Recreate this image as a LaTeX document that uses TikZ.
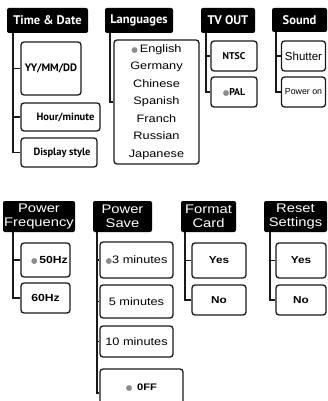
\documentclass[tikz,border=0pt]{standalone}
\usepackage{fontspec}
\setmainfont{Liberation Sans}
\newfontfamily\ptsans{PT Sans}
\newfontfamily\wide[FakeStretch=1.18]{Liberation Sans}
\newfontfamily\dv{DejaVu Sans}
\definecolor{dotgray}{gray}{0.55}
\newcommand{\gdot}{{\color{dotgray}\dv\fontsize{7.5}{7.5}\selectfont ●}}
\begin{document}
\begin{tikzpicture}[x=1pt,y=-1pt,
  hdr/.style={fill=black, rounded corners=2pt, text=white, inner sep=0pt, align=center},
  tophdr/.style={hdr, font=\ptsans\bfseries\fontsize{12.5}{13}\selectfont},
  bothdr/.style={hdr, font=\wide\fontsize{12.5}{14.5}\selectfont},
  opt/.style={draw=black!90, line width=1.3pt, rounded corners=3pt, inner sep=0pt, fill=white, align=center},
  link/.style={line width=1.5pt, draw=black!90}]
\clip (0,0) rectangle (327,401);
\useasboundingbox (0,0) rectangle (327,401);
% ---------- top row headers
\node[tophdr, minimum width=81pt, minimum height=25pt] (td) at (47.5,20.5) {Time \& Date};
\node[tophdr, minimum width=68pt, minimum height=25pt] (lg) at (139,20.5) {Languages};
\node[tophdr, minimum width=54pt, minimum height=25pt] (tv) at (228,20.5) {TV OUT};
\node[tophdr, minimum width=55pt, minimum height=24pt] (sd) at (299.5,20) {Sound};
% ---------- top row options
\node[opt, minimum width=60pt, minimum height=53pt, font=\ptsans\bfseries\fontsize{10.8}{12}\selectfont] (ymd) at (51,68.5) {YY/MM/DD};
\node[opt, minimum width=79pt, minimum height=28pt, font=\ptsans\bfseries\fontsize{10.5}{12}\selectfont] (hm) at (60.5,117) {\hspace*{10pt}Hour/minute};
\node[opt, minimum width=76pt, minimum height=29pt, font=\ptsans\bfseries\fontsize{10.5}{12}\selectfont] (ds) at (59,152.5) {\hspace*{6pt}Display style};
\node[opt, minimum width=85pt, minimum height=124pt, font=\wide\fontsize{10.8}{17.5}\selectfont] (lang) at (156.5,102)
  {\gdot\,English\\Germany\\Chinese\\Spanish\\Franch\\Russian\\Japanese};
\node[opt, minimum width=46pt, minimum height=30pt, font=\ptsans\bfseries\fontsize{9.8}{10}\selectfont] (ntsc) at (234,56) {NTSC};
\node[opt, minimum width=46pt, minimum height=30pt, font=\ptsans\bfseries\fontsize{9.8}{10}\selectfont] (pal) at (234,92) {\gdot PAL};
\node[opt, minimum width=44pt, minimum height=30pt, font=\fontsize{11.5}{12}\selectfont] (sh) at (303.5,56) {Shutter};
\node[opt, minimum width=44pt, minimum height=30pt, font=\fontsize{8.8}{10}\selectfont] (po) at (303.5,92) {Power on};
% ---------- top row links
\draw[link] ([xshift=6pt]td.south west) |- (ymd.west);
\draw[link] ([xshift=6pt]td.south west) |- (hm.west);
\draw[link] ([xshift=6pt]td.south west) |- (ds.west);
\draw[link] ([xshift=5pt]lg.south west) |- (lang.west);
\draw[link] ([xshift=5pt]tv.south west) |- (ntsc.west);
\draw[link] ([xshift=5pt]tv.south west) |- (pal.west);
\draw[link] ([xshift=4pt]sd.south west) |- (sh.west);
\draw[link] ([xshift=4pt]sd.south west) |- (po.west);
% ---------- bottom row headers
\node[bothdr, minimum width=72pt, minimum height=31pt] (pf) at (39,216.5) {Power\\Frequency};
\node[bothdr, minimum width=59pt, minimum height=31pt] (ps) at (122.5,216.5) {Power\\Save};
\node[bothdr, minimum width=55pt, minimum height=31pt] (fc) at (208.5,216.5) {Format\\Card};
\node[bothdr, minimum width=63pt, minimum height=31pt] (rs) at (295.5,216.5) {Reset\\Settings};
% ---------- bottom row options
\node[opt, minimum width=49pt, minimum height=34pt, font=\wide\bfseries\fontsize{10.3}{11}\selectfont] (f50) at (45.5,260) {\hspace*{8pt}\gdot\,50Hz};
\node[opt, minimum width=49pt, minimum height=30pt, font=\wide\bfseries\fontsize{10.3}{11}\selectfont] (f60) at (45.5,298) {60Hz};
\node[opt, minimum width=73pt, minimum height=36pt, font=\wide\fontsize{10.8}{12}\selectfont] (p3) at (136.5,260) {\gdot3 minutes};
\node[opt, minimum width=73pt, minimum height=33pt, font=\wide\fontsize{10.8}{12}\selectfont] (p5) at (136.5,301.5) {5 minutes};
\node[opt, minimum width=73pt, minimum height=31pt, font=\wide\fontsize{10.8}{12}\selectfont] (p10) at (136.5,341.5) {10 minutes};
\node[opt, minimum width=83pt, minimum height=38pt, font=\wide\bfseries\fontsize{9.5}{11}\selectfont] (poff) at (141.5,388) {\gdot\, 0FF};
\node[opt, minimum width=54pt, minimum height=35pt, font=\wide\bfseries\fontsize{10}{12}\selectfont] (fy) at (219,260.5) {Yes};
\node[opt, minimum width=54pt, minimum height=30pt, font=\wide\bfseries\fontsize{10}{12}\selectfont] (fn) at (219,300) {No};
\node[opt, minimum width=50pt, minimum height=35pt, font=\wide\bfseries\fontsize{10}{12}\selectfont] (ry) at (301,260.5) {Yes};
\node[opt, minimum width=50pt, minimum height=30pt, font=\wide\bfseries\fontsize{10}{12}\selectfont] (rn) at (301,300) {No};
% ---------- bottom row links
\draw[link] ([xshift=10pt]pf.south west) |- (f50.west);
\draw[link] ([xshift=10pt]pf.south west) |- (f60.west);
\draw[link] ([xshift=4pt]ps.south west) |- (p3.west);
\draw[link] ([xshift=4pt]ps.south west) |- (p5.west);
\draw[link] ([xshift=4pt]ps.south west) |- (p10.west);
\draw[link] ([xshift=4pt]ps.south west) |- ([yshift=-5pt]poff.west);
\draw[link] ([xshift=4pt]fc.south west) |- (fy.west);
\draw[link] ([xshift=4pt]fc.south west) |- (fn.west);
\draw[link] ([xshift=6pt]rs.south west) |- (ry.west);
\draw[link] ([xshift=6pt]rs.south west) |- (rn.west);
\end{tikzpicture}
\end{document}
